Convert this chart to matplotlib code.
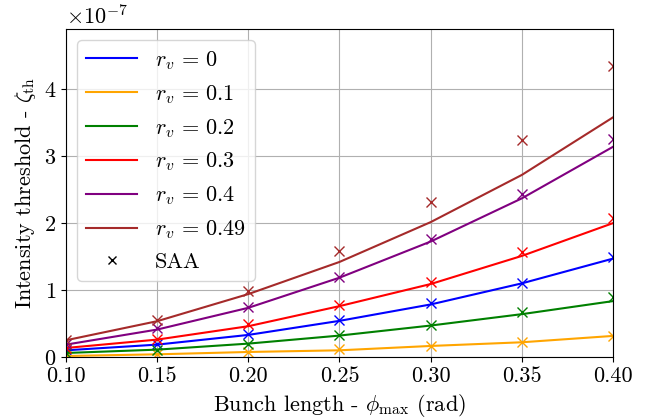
import matplotlib
matplotlib.use("Agg")
import matplotlib.pyplot as plt
import numpy as np

plt.rcParams.update({
    "font.family": "serif",
    "font.serif": ["cmr10", "DejaVu Serif"],
    "mathtext.fontset": "cm",
    "axes.formatter.use_mathtext": True,
    "font.size": 16,
    "axes.unicode_minus": True,
})

phi_max = [0.10, 0.15, 0.20, 0.25, 0.30, 0.35, 0.40]
r_v_labels = ["0", "0.1", "0.2", "0.3", "0.4", "0.49"]
colors = ["blue", "orange", "green", "red", "purple", "brown"]

# theory curves (units of 1e-7)
theory_rv0 = [0.10, 0.185, 0.33, 0.54, 0.785, 1.10, 1.47]
theory_rv01 = [0.015, 0.04, 0.075, 0.10, 0.165, 0.22, 0.315]
theory_rv02 = [0.06, 0.11, 0.20, 0.32, 0.47, 0.64, 0.835]
theory_rv03 = [0.135, 0.26, 0.46, 0.76, 1.09, 1.51, 2.00]
theory_rv04 = [0.185, 0.41, 0.735, 1.185, 1.725, 2.37, 3.14]
theory_rv049 = [0.25, 0.535, 0.94, 1.42, 2.015, 2.72, 3.58]

# SAA points (units of 1e-7)
saa_rv0 = [0.10, 0.19, 0.34, 0.55, 0.80, 1.11, 1.49]
saa_rv01 = [0.015, 0.05, 0.08, 0.115, 0.17, 0.23, 0.32]
saa_rv02 = [0.06, 0.11, 0.20, 0.335, 0.485, 0.675, 0.90]
saa_rv03 = [0.14, 0.27, 0.49, 0.77, 1.115, 1.565, 2.07]
saa_rv04 = [0.19, 0.43, 0.75, 1.20, 1.76, 2.44, 3.26]
saa_rv049 = [0.26, 0.55, 0.985, 1.585, 2.31, 3.24, 4.34]

theory = [theory_rv0, theory_rv01, theory_rv02, theory_rv03, theory_rv04, theory_rv049]
saa = [saa_rv0, saa_rv01, saa_rv02, saa_rv03, saa_rv04, saa_rv049]
scale = 1e-7

fig = plt.figure(figsize=(6.54, 4.18), dpi=100)
ax = fig.add_axes([66/654, 1-357/418, (613-66)/654, (357-29)/418])

x = np.array(phi_max)
for lab, c, th, sa in zip(r_v_labels, colors, theory, saa):
    ax.plot(x, np.array(th)*scale, color=c, lw=1.5, label=r"$r_v \,=\, %s$" % lab)
    ax.plot(x, np.array(sa)*scale, ls="none", marker="x", ms=7.5, mew=1.0, color=c)

ax.plot([], [], ls="none", marker="x", color="black", label="SAA")

ax.set_xlim(0.10, 0.40)
ax.set_ylim(0, 4.9e-7)
ax.set_xticks(phi_max)
ax.set_xticklabels(["%.2f" % v for v in phi_max])
ax.grid(True, color="#b0b0b0", lw=0.8)
ax.set_xlabel(r"Bunch length - $\phi_{\max}$ (rad)")
ax.set_ylabel(r"Intensity threshold - $\zeta_{\rm th}$")
ax.legend(loc="upper left", fontsize=16, handlelength=2.3)

fig.savefig("out.png", dpi=100)
